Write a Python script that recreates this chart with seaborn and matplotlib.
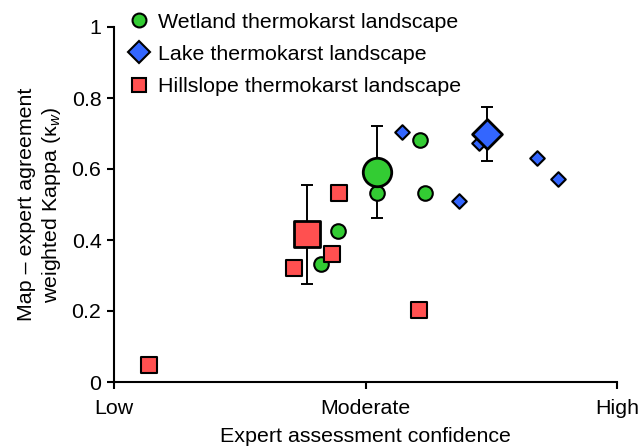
import matplotlib
matplotlib.use("Agg")
import matplotlib.pyplot as plt
import seaborn as sns
import pandas as pd
from matplotlib.lines import Line2D

# x: 1 = Low, 2 = Moderate, 3 = High
wet_x = [1.824, 1.891, 2.044, 2.218, 2.237]
wet_y = [0.333, 0.424, 0.532, 0.681, 0.531]
wet_mean = (2.044, 0.592, 0.462, 0.722)

lake_x = [2.145, 2.372, 2.450, 2.680, 2.766]
lake_y = [0.703, 0.510, 0.672, 0.631, 0.573]
lake_mean = (2.485, 0.700, 0.622, 0.776)

hill_x = [1.138, 1.715, 1.867, 1.894, 2.211]
hill_y = [0.048, 0.321, 0.361, 0.532, 0.202]
hill_mean = (1.769, 0.417, 0.277, 0.556)

labels = ["Wetland thermokarst landscape", "Lake thermokarst landscape",
          "Hillslope thermokarst landscape"]
xticks = [1, 2, 3]
xticklabels = ["Low", "Moderate", "High"]
yticks = [0, 0.2, 0.4, 0.6, 0.8, 1]
yticklabels = ["0", "0.2", "0.4", "0.6", "0.8", "1"]

colors = ["#33CC33", "#3366FF", "#FF5050"]
markers = ["o", "D", "s"]

sns.set_style("ticks")
plt.rcParams["font.family"] = ["Liberation Sans", "DejaVu Sans"]
plt.rcParams["mathtext.fontset"] = "custom"
plt.rcParams["mathtext.rm"] = "Liberation Sans"
plt.rcParams["mathtext.it"] = "Liberation Sans:italic"
plt.rcParams["text.color"] = "black"
plt.rcParams["axes.labelcolor"] = "black"
plt.rcParams["xtick.color"] = "black"
plt.rcParams["ytick.color"] = "black"

FS = 15.4

fig = plt.figure(figsize=(6.4, 4.47), dpi=100)
ax = fig.add_axes([114 / 640, 1 - 382 / 447, 503 / 640, 355 / 447])

small_sizes = [110, 55, 120]
big_sizes = [420, 230, 360]
groups = [(wet_x, wet_y, wet_mean), (lake_x, lake_y, lake_mean), (hill_x, hill_y, hill_mean)]

for (gx, gy, m), c in zip(groups, colors):
    ax.errorbar([m[0]], [m[1]], yerr=[[m[1] - m[2]], [m[3] - m[1]]], fmt="none",
                ecolor="black", elinewidth=1.4, capsize=4.5, capthick=1.4, zorder=2)

for (gx, gy, m), c, mk, ss, bs in zip(groups, colors, markers, small_sizes, big_sizes):
    df = pd.DataFrame({"x": gx, "y": gy})
    sns.scatterplot(data=df, x="x", y="y", ax=ax, color=c, marker=mk, s=ss,
                    edgecolor="black", linewidth=1.5, zorder=3, clip_on=False)
    dm = pd.DataFrame({"x": [m[0]], "y": [m[1]]})
    sns.scatterplot(data=dm, x="x", y="y", ax=ax, color=c, marker=mk, s=bs,
                    edgecolor="black", linewidth=2, zorder=4, clip_on=False)

ax.set_xlim(1, 3)
ax.set_ylim(0, 1)
ax.set_xticks(xticks)
ax.set_xticklabels(xticklabels)
ax.set_yticks(yticks)
ax.set_yticklabels(yticklabels)
ax.tick_params(direction="out", length=5, width=1.5, labelsize=FS, color="black",
               labelcolor="black")
ax.tick_params(axis="x", pad=7)
ax.tick_params(axis="y", pad=4)
for s in ["left", "bottom"]:
    ax.spines[s].set_linewidth(1.5)
    ax.spines[s].set_color("black")
sns.despine(ax=ax)

ax.set_xlabel("Expert assessment confidence", fontsize=FS, labelpad=7, color="black")
ax.set_ylabel("Map \u2013 expert agreement\nweighted Kappa (\u03ba$_w$)", fontsize=FS,
              labelpad=6, linespacing=1.25, color="black")

handles = [Line2D([], [], linestyle="none", marker=mk, markersize=ms, markerfacecolor=c,
                  markeredgecolor="black", markeredgewidth=1.5)
           for mk, c, ms in zip(markers, colors, [10, 11, 10])]
fig.legend(handles, labels, loc="upper left", bbox_to_anchor=(122 / 640, 1 - 4 / 447),
           frameon=False, fontsize=FS, handlelength=0.8, handletextpad=0.5,
           labelspacing=0.62, borderaxespad=0, labelcolor="black")

fig.savefig("out.png", dpi=100)
